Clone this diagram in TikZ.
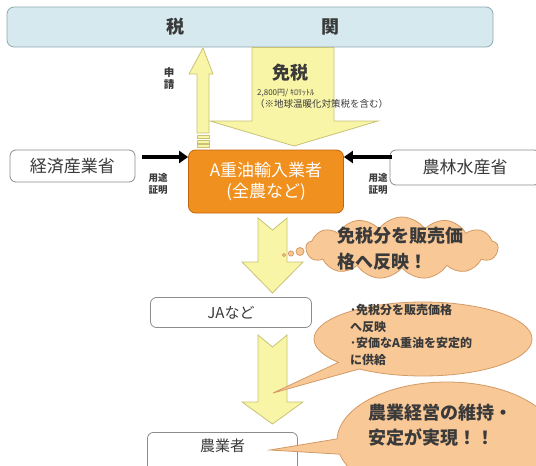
\documentclass[tikz,border=0pt]{standalone}
\usepackage{fontspec}
\setmainfont{Noto Sans CJK JP}
\usetikzlibrary{shapes.symbols,shapes.callouts,arrows.meta}
\definecolor{barfill}{HTML}{D5E9EF}
\definecolor{barline}{HTML}{8FA9B0}
\definecolor{yfill}{HTML}{F8F5A6}
\definecolor{yline}{HTML}{C9C277}
\definecolor{ofill}{HTML}{F0901E}
\definecolor{oline}{HTML}{C0650F}
\definecolor{pfill}{HTML}{F8C896}
\definecolor{pline}{HTML}{D49A66}
\definecolor{txt}{HTML}{3A3A3A}
\definecolor{boxline}{HTML}{8C8C8C}
\tikzset{
  whitebox/.style={draw=boxline,fill=white,rounded corners=6pt,line width=0.8pt,text=txt},
  yarrow/.style={draw=yline,fill=yfill,line width=0.8pt},
  peach/.style={draw=pline,fill=pfill,line width=0.8pt,text=txt},
  blk/.style={line width=4pt,-{Triangle[length=9pt,width=12pt]}}
}
\begin{document}
\begin{tikzpicture}[x=1pt,y=-1pt]
\useasboundingbox (0,0) rectangle (536,466);
\clip (0,0) rectangle (536,466);
% top bar
\node[draw=barline,fill=barfill,rounded corners=7pt,line width=0.8pt,minimum width=486pt,minimum height=40pt,inner sep=0pt] (bar) at (250,27) {};
\node[text=txt,font=\fontsize{18}{20}\selectfont\bfseries] (zei) at (175,27) {税};
\node[text=txt,font=\fontsize{18}{20}\selectfont\bfseries] (kan) at (330,27) {関};
% big down arrow
\draw[yarrow] (252,47.5) -- (334,47.5) -- (334,121) -- (378,121) -- (294,146) -- (210,121) -- (252,121) -- cycle;
% up arrow
\draw[yarrow] (197,133) -- (197,74) -- (189,74) -- (203,48) -- (213,74) -- (209,74) -- (209,133) -- cycle;
\draw[yarrow,line width=0.5pt] (197,135) rectangle (209,138.5);
\draw[yarrow,line width=0.5pt] (197,140) rectangle (209,143);
\draw[yarrow,line width=0.5pt] (197,144.5) rectangle (209,147.5);
\node[text=txt,font=\fontsize{10.5}{12}\selectfont\bfseries,align=center,inner sep=0pt] (shinsei) at (169,79) {申\\請};
\node[text=txt,font=\fontsize{18}{20}\selectfont\bfseries] (menzei) at (290,73) {免税};
\node[text=txt,font=\fontsize{8}{10}\selectfont,anchor=west,inner sep=0pt] (rate) at (257,93) {2,800円/ ｷﾛﾘｯﾄﾙ};
\node[text=txt,font=\fontsize{9.5}{11}\selectfont,anchor=west,inner sep=0pt] (note) at (255,104) {（※地球温暖化対策税を含む）};
% orange box
\node[draw=oline,fill=ofill,rounded corners=7pt,line width=0.8pt,minimum width=155pt,minimum height=63pt,text=white,font=\fontsize{17}{21}\selectfont,align=center] (imp) at (266,181.5) {A重油輸入業者\\(全農など)};
% side boxes
\node[whitebox,minimum width=125pt,minimum height=32pt,font=\fontsize{17}{20}\selectfont] (meti) at (72.5,166) {経済産業省};
\node[whitebox,minimum width=150pt,minimum height=35pt,font=\fontsize{17}{20}\selectfont] (maff) at (465,167.5) {農林水産省};
\coordinate (ml) at (142,157);
\coordinate (mr) at (392,157);
\draw[blk] (ml) -- (imp.west |- ml);
\draw[blk] (mr) -- (imp.east |- mr);
\node[text=txt,font=\fontsize{9.5}{12}\selectfont\bfseries,align=center,inner sep=0pt] (yl) at (158,184) {用途\\証明};
\node[text=txt,font=\fontsize{9.5}{12}\selectfont\bfseries,align=center,inner sep=0pt] (yr) at (378,184) {用途\\証明};
% arrow 1
\draw[yarrow] (258,218) -- (272.5,230) -- (287,218) -- (287,262) -- (303,262) -- (272.5,293) -- (242,262) -- (258,262) -- cycle;
% JA box
\node[whitebox,minimum width=161pt,minimum height=30pt,font=\fontsize{15}{18}\selectfont] (ja) at (231,312.5) {JAなど};
% arrow 2
\draw[yarrow] (258,335) -- (272.5,347) -- (287,335) -- (287,402) -- (303,402) -- (272.5,424) -- (242,402) -- (258,402) -- cycle;
% farmer box
\node[whitebox,minimum width=150pt,minimum height=50pt,anchor=north] (farm) at (222.5,432) {};
\node[text=txt,font=\fontsize{15}{18}\selectfont] (farmt) at (222.5,446) {農業者};
% cloud
\node[cloud,cloud puffs=13,cloud puff arc=110,aspect=3,peach,minimum width=192pt,minimum height=62pt,inner sep=0pt] (cl) at (402,248) {};
\node[text=txt,font=\fontsize{18}{26}\selectfont\bfseries,align=left,anchor=west,inner sep=0pt] (clt) at (337,249) {免税分を販売価\\格へ反映！};
\draw[peach] (300,251.5) circle (4);
\draw[peach] (291,253.5) circle (2.6);
\draw[peach] (284,255) circle (1.6);
% callout 2
\node[ellipse callout,peach,minimum width=218pt,minimum height=74pt,callout absolute pointer={(273,393)}] (c2) at (423,339) {};
\node[text=txt,font=\fontsize{12}{16.7}\selectfont\bfseries,align=left,anchor=north west,inner sep=0pt] (c2t) at (350,304) {･免税分を販売価格\\へ反映\\･安価なA重油を安定的\\に供給};
% callout 3
\node[ellipse callout,peach,minimum width=220pt,minimum height=118pt,callout absolute pointer={(270,450)}] (c3) at (447,441) {};
\node[text=txt,font=\fontsize{18}{25}\selectfont\bfseries,align=left,anchor=north west,inner sep=0pt] (c3t) at (368,404) {農業経営の維持・\\安定が実現！！};
\end{tikzpicture}
\end{document}
